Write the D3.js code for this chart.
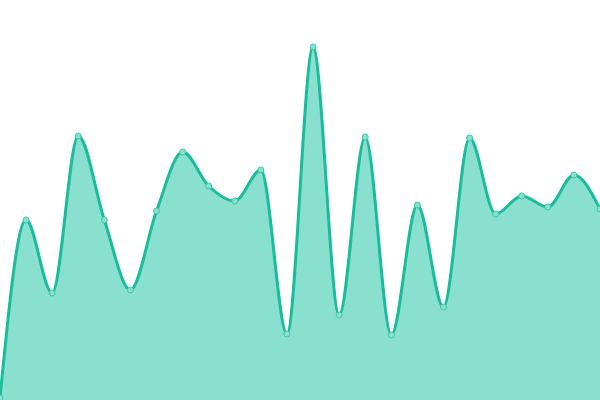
<!DOCTYPE html>
<html>
<head>
<meta charset="utf-8">
<script src="https://cdn.jsdelivr.net/npm/d3@7"></script>
<style>
  body { margin: 0; background: #fff; }
  svg { display: block; }
</style>
</head>
<body>
<svg width="600" height="400"></svg>
<script>
var svg = d3.select("svg");
var width = +svg.attr("width");
var height = +svg.attr("height");

// one value per point, left to right
var index = d3.range(24);
var values = [0.5, 45, 26.75, 66, 45, 27.5, 47.25, 62, 53.5, 49.75, 57.5, 16.5,
              88.25, 21.25, 65.75, 16.25, 48.75, 23.25, 65.5, 46.5, 51, 48.25, 56.25, 47.75];

var data = index.map(function(i) { return {i: i, v: values[i]}; });

var xScale = d3.scaleLinear().domain([0, 23]).range([0, width]);
var yScale = d3.scaleLinear().domain([0, 100]).range([height, 0]);

var curve = d3.curveMonotoneX;

var area = d3.area()
  .x(function(d) { return xScale(d.i); })
  .y0(height)
  .y1(function(d) { return yScale(d.v); })
  .curve(curve);

var line = d3.line()
  .x(function(d) { return xScale(d.i); })
  .y(function(d) { return yScale(d.v); })
  .curve(curve);

svg.append("path")
  .datum(data)
  .attr("d", area)
  .style("fill", "#8ae0ce");

svg.append("path")
  .datum(data)
  .attr("d", line)
  .style("fill", "none")
  .style("stroke", "#1abc9c")
  .style("stroke-width", 3);

svg.selectAll("circle")
  .data(data)
  .enter()
  .append("circle")
  .attr("cx", function(d) { return xScale(d.i); })
  .attr("cy", function(d) { return yScale(d.v); })
  .attr("r", 3)
  .style("fill", "#8ae0ce")
  .style("stroke", "#3cc9a8")
  .style("stroke-width", 1);
</script>
</body>
</html>
